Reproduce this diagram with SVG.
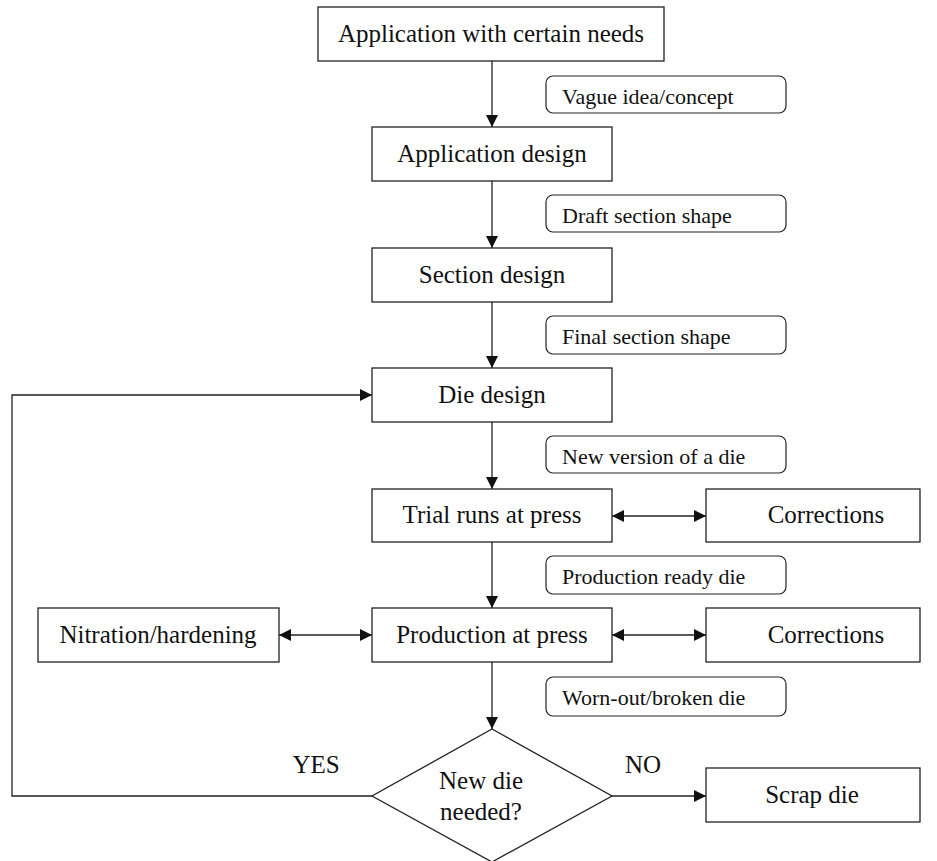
<svg xmlns="http://www.w3.org/2000/svg" width="937" height="861" viewBox="0 0 937 861">
<style>
  .box{fill:#fff;stroke:#222;stroke-width:1.3}
  .lbl{fill:#fff;stroke:#222;stroke-width:1.2}
  .t{font-family:"Liberation Serif","Times New Roman",serif;font-size:25px;fill:#111;text-anchor:middle}
  .s{font-family:"Liberation Serif","Times New Roman",serif;font-size:22px;fill:#111}
  .c{fill:none;stroke:#222;stroke-width:1.3}
</style>
<defs>
  <marker id="ah" markerUnits="userSpaceOnUse" markerWidth="13" markerHeight="12" refX="12" refY="6" orient="auto-start-reverse">
    <path d="M0,0 L12,6 L0,12 z" fill="#111"/>
  </marker>
</defs>
<rect width="937" height="861" fill="#fff"/>
<g id="connectors">
  <line class="c" x1="492" y1="61" x2="492" y2="127" marker-end="url(#ah)"/>
  <line class="c" x1="492" y1="181" x2="492" y2="248" marker-end="url(#ah)"/>
  <line class="c" x1="492" y1="302" x2="492" y2="368" marker-end="url(#ah)"/>
  <line class="c" x1="492" y1="422" x2="492" y2="489" marker-end="url(#ah)"/>
  <line class="c" x1="492" y1="542" x2="492" y2="608" marker-end="url(#ah)"/>
  <line class="c" x1="492" y1="662" x2="492" y2="729" marker-end="url(#ah)"/>
  <line class="c" x1="612" y1="516" x2="706" y2="516" marker-start="url(#ah)" marker-end="url(#ah)"/>
  <line class="c" x1="612" y1="635" x2="706" y2="635" marker-start="url(#ah)" marker-end="url(#ah)"/>
  <line class="c" x1="279" y1="635" x2="372" y2="635" marker-start="url(#ah)" marker-end="url(#ah)"/>
  <polyline class="c" points="372,796 12,796 12,395 372,395" marker-end="url(#ah)"/>
  <line class="c" x1="612" y1="796" x2="706" y2="796" marker-end="url(#ah)"/>
  <text class="t" x="316" y="773">YES</text>
  <text class="t" x="643" y="773">NO</text>
</g>
<g id="n-app">
  <rect class="box" x="318" y="7" width="346" height="54"/>
  <text class="t" x="491" y="42">Application with certain needs</text>
</g>
<g id="l-vague">
  <rect class="lbl" x="546" y="76" width="240" height="37" rx="7"/>
  <text class="s" x="562" y="104">Vague idea/concept</text>
</g>
<g id="n-appdesign">
  <rect class="box" x="372" y="127" width="240" height="54"/>
  <text class="t" x="492" y="162">Application design</text>
</g>
<g id="l-draft">
  <rect class="lbl" x="546" y="195" width="240" height="37" rx="7"/>
  <text class="s" x="562" y="223">Draft section shape</text>
</g>
<g id="n-section">
  <rect class="box" x="372" y="248" width="240" height="54"/>
  <text class="t" x="492" y="283">Section design</text>
</g>
<g id="l-final">
  <rect class="lbl" x="546" y="316" width="240" height="38" rx="7"/>
  <text class="s" x="562" y="344">Final section shape</text>
</g>
<g id="n-die">
  <rect class="box" x="372" y="368" width="240" height="54"/>
  <text class="t" x="492" y="403">Die design</text>
</g>
<g id="l-new">
  <rect class="lbl" x="546" y="436" width="240" height="37" rx="7"/>
  <text class="s" x="562" y="464">New version of a die</text>
</g>
<g id="n-trial">
  <rect class="box" x="372" y="489" width="240" height="53"/>
  <text class="t" x="492" y="523">Trial runs at press</text>
</g>
<g id="n-corr1">
  <rect class="box" x="706" y="489" width="214" height="53"/>
  <text class="t" x="826" y="523">Corrections</text>
</g>
<g id="l-prodready">
  <rect class="lbl" x="546" y="556" width="240" height="38" rx="7"/>
  <text class="s" x="562" y="584">Production ready die</text>
</g>
<g id="n-nitr">
  <rect class="box" x="38" y="608" width="241" height="54"/>
  <text class="t" x="158" y="643">Nitration/hardening</text>
</g>
<g id="n-prod">
  <rect class="box" x="372" y="608" width="240" height="54"/>
  <text class="t" x="492" y="643">Production at press</text>
</g>
<g id="n-corr2">
  <rect class="box" x="706" y="608" width="214" height="54"/>
  <text class="t" x="826" y="643">Corrections</text>
</g>
<g id="l-worn">
  <rect class="lbl" x="546" y="677" width="240" height="39" rx="7"/>
  <text class="s" x="562" y="705">Worn-out/broken die</text>
</g>
<g id="n-decision">
  <polygon class="box" points="492,729 612,796 492,862 372,796"/>
  <text class="t" x="481" y="789">New die</text>
  <text class="t" x="481" y="820">needed?</text>
</g>
<g id="n-scrap">
  <rect class="box" x="706" y="768" width="214" height="54"/>
  <text class="t" x="812" y="803">Scrap die</text>
</g>
</svg>
